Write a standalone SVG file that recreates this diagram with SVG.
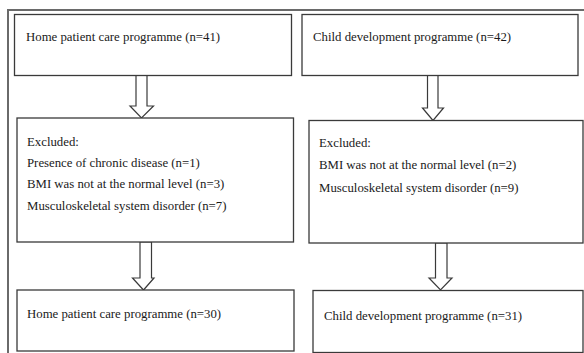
<svg xmlns="http://www.w3.org/2000/svg" width="584" height="353" viewBox="0 0 584 353">
<style>
  .frame { fill: none; stroke: #6a6a6a; stroke-width: 2; }
  .box { fill: #ffffff; stroke: #3a3a3a; stroke-width: 1.3; }
  .arrow { fill: #ffffff; stroke: #3a3a3a; stroke-width: 1.2; stroke-linejoin: miter; }
  text { font-family: "Liberation Serif", "Times New Roman", serif; font-size: 12.8px; fill: #1a1a1a; }
</style>
<rect width="584" height="353" fill="#ffffff"/>
<rect class="frame" x="8" y="10" width="590" height="360"/>
<g id="connectors">
  <polygon class="arrow" points="136,75.5 147,75.5 147,106 153.5,106 141.5,118 130,106 136,106"/>
  <polygon class="arrow" points="427.5,75.5 438,75.5 438,108 443.5,108 433,120.5 422.5,108 427.5,108"/>
  <polygon class="arrow" points="140,242 151.5,242 151.5,278 154,278 143.5,290 132.5,278 140,278"/>
  <polygon class="arrow" points="435.5,243 447,243 447,278 452,278 440.5,290 429,278 435.5,278"/>
</g>
<g id="node-home-41">
  <rect class="box" x="14.5" y="14.5" width="277" height="61"/>
  <text x="26" y="41">Home patient care programme (n=41)</text>
</g>
<g id="node-child-42">
  <rect class="box" x="302" y="14.5" width="276" height="61"/>
  <text x="313" y="41">Child development programme (n=42)</text>
</g>
<g id="node-excluded-left">
  <rect class="box" x="17" y="118" width="276.5" height="124"/>
  <text x="27" y="145.5">Excluded:</text>
  <text x="27" y="166.5">Presence of chronic disease (n=1)</text>
  <text x="27" y="188">BMI was not at the normal level (n=3)</text>
  <text x="27" y="209.5">Musculoskeletal system disorder (n=7)</text>
</g>
<g id="node-excluded-right">
  <rect class="box" x="309" y="120.5" width="274" height="122.5"/>
  <text x="319" y="147">Excluded:</text>
  <text x="319" y="169">BMI was not at the normal level (n=2)</text>
  <text x="319" y="191.5">Musculoskeletal system disorder (n=9)</text>
</g>
<g id="node-home-30">
  <rect class="box" x="17" y="290" width="277" height="61"/>
  <text x="27" y="318">Home patient care programme (n=30)</text>
</g>
<g id="node-child-31">
  <rect class="box" x="313" y="290.5" width="270" height="62"/>
  <text x="324" y="319.5">Child development programme (n=31)</text>
</g>
</svg>
